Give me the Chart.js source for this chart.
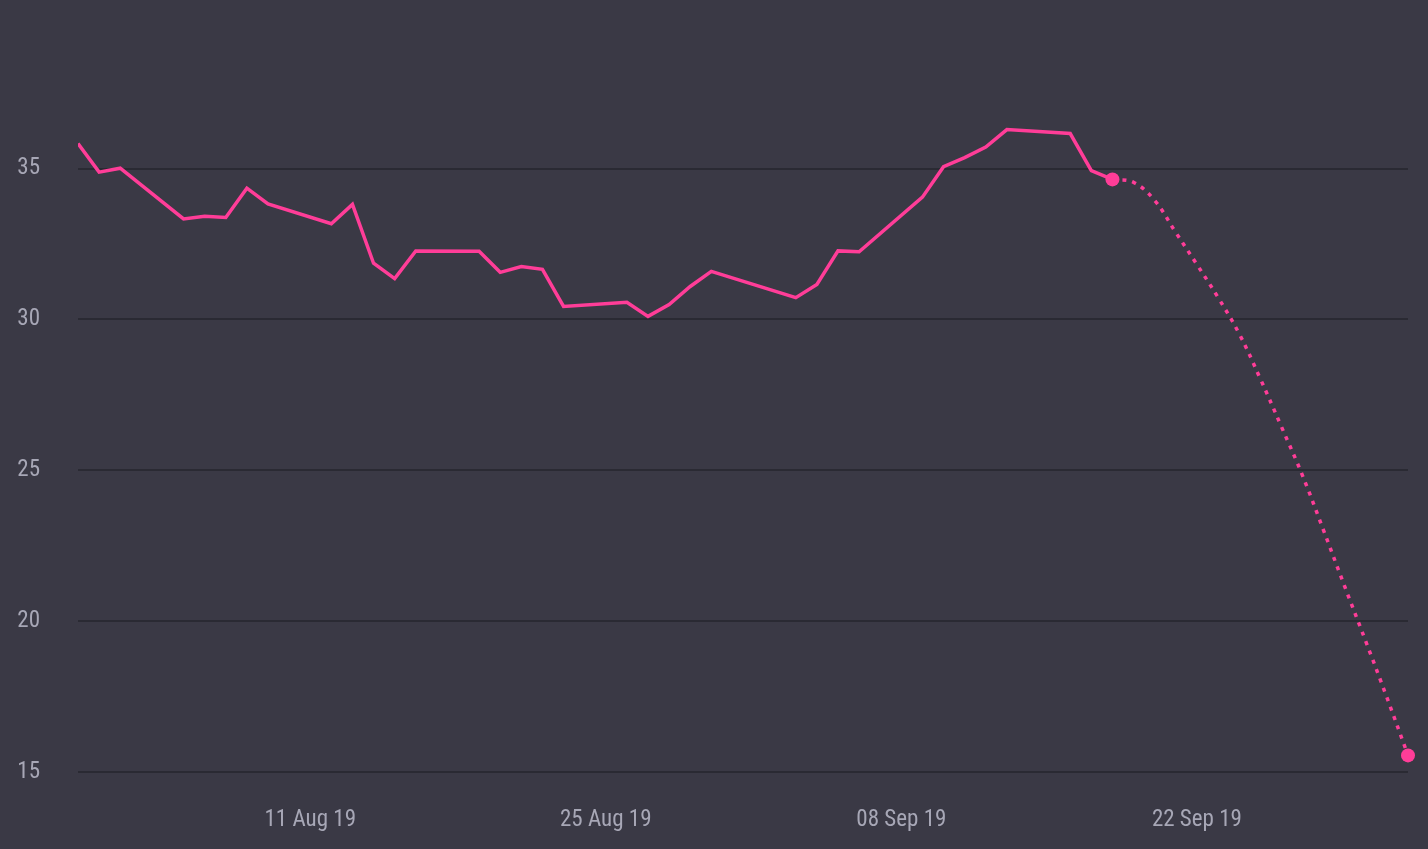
<!DOCTYPE html>
<html>
<head>
<meta charset="utf-8">
<script src="https://cdn.jsdelivr.net/npm/chart.js@4/dist/chart.umd.min.js"></script>
<style>
  html, body { margin: 0; padding: 0; background: #3a3945; }
  #wrap { width: 1428px; height: 849px; }
</style>
</head>
<body>
<div id="wrap"><canvas id="myChart"></canvas></div>
<script>
// actual closes
const solidDates = ['2019-07-31', '2019-08-01', '2019-08-02', '2019-08-05', '2019-08-06', '2019-08-07',
  '2019-08-08', '2019-08-09', '2019-08-12', '2019-08-13', '2019-08-14', '2019-08-15', '2019-08-16',
  '2019-08-19', '2019-08-20', '2019-08-21', '2019-08-22', '2019-08-23', '2019-08-26', '2019-08-27',
  '2019-08-28', '2019-08-29', '2019-08-30', '2019-09-03', '2019-09-04', '2019-09-05', '2019-09-06',
  '2019-09-09', '2019-09-10', '2019-09-11', '2019-09-12', '2019-09-13', '2019-09-16', '2019-09-17',
  '2019-09-18'];
const solidValues = [35.83, 34.88, 35.01, 33.33, 33.42, 33.38,
  34.35, 33.83, 33.17, 33.81, 31.86, 31.35, 32.27,
  32.26, 31.56, 31.75, 31.66, 30.43, 30.57, 30.10,
  30.49, 31.09, 31.59, 30.72, 31.16, 32.27, 32.24,
  34.05, 35.06, 35.36, 35.71, 36.29, 36.16, 34.93,
  34.64];

// forecast
const forecastDates = ['2019-09-18', '2019-09-19', '2019-09-20', '2019-09-21', '2019-09-22', '2019-09-23',
  '2019-09-24', '2019-09-25', '2019-09-26', '2019-09-27', '2019-09-28', '2019-09-29', '2019-09-30',
  '2019-10-01', '2019-10-02'];
const forecastValues = [34.64, 34.54, 33.94, 32.88, 31.82, 30.73,
  29.53, 28.04, 26.45, 24.83, 23.01, 21.15, 19.33,
  17.47, 15.55];

const yTicks = [15, 20, 25, 30, 35];
const xTickDates = ['2019-08-11', '2019-08-25', '2019-09-08', '2019-09-22'];
const xTickLabels = ['11 Aug 19', '25 Aug 19', '08 Sep 19', '22 Sep 19'];

function dayNum(s) {
  return (Date.parse(s) - Date.parse(solidDates[0])) / 86400000;
}

function points(dates, values) {
  return dates.map(function (d, i) { return { x: dayNum(d), y: values[i] }; });
}

var pink = '#ff3d98';
var lastSolid = solidValues.length - 1;
var lastFc = forecastValues.length - 1;

Chart.defaults.font.family = "'Liberation Sans Narrow', 'Roboto Condensed', Roboto, sans-serif";
Chart.defaults.font.size = 23;
Chart.defaults.color = '#a7a7b6';

var ctx = document.getElementById('myChart').getContext('2d');
var myChart = new Chart(ctx, {
  type: 'line',
  data: {
    datasets: [{
      data: points(solidDates, solidValues),
      borderColor: pink,
      backgroundColor: pink,
      borderWidth: 3.5,
      tension: 0,
      pointRadius: solidValues.map(function (v, i) { return i === lastSolid ? 7 : 0; }),
      pointBorderWidth: 0,
      pointHoverRadius: 0
    }, {
      data: points(forecastDates, forecastValues),
      borderColor: pink,
      backgroundColor: pink,
      borderWidth: 3.5,
      borderDash: [4, 6],
      tension: 0.4,
      clip: false,
      pointRadius: forecastValues.map(function (v, i) { return i === lastFc ? 7 : 0; }),
      pointBorderWidth: 0,
      pointHoverRadius: 0
    }]
  },
  options: {
    responsive: true,
    maintainAspectRatio: false,
    animation: false,
    events: [],
    layout: { padding: { left: 0, right: 20, top: 78, bottom: 0 } },
    plugins: { legend: { display: false }, tooltip: { enabled: false } },
    scales: {
      x: {
        type: 'linear',
        min: 0,
        max: dayNum(forecastDates[lastFc]),
        grid: { display: false, drawTicks: false },
        border: { display: false },
        afterBuildTicks: function (axis) {
          axis.ticks = xTickDates.map(function (d) { return { value: dayNum(d) }; });
        },
        afterFit: function (axis) {
          axis.height = 77;
          axis.paddingLeft = 0;
          axis.paddingRight = 0;
        },
        ticks: {
          autoSkip: false,
          maxRotation: 0,
          padding: 34,
          callback: function (v, i) { return xTickLabels[i]; }
        }
      },
      y: {
        min: 15,
        max: 38,
        grid: { color: '#2a2a33', lineWidth: 2, drawTicks: false },
        border: { display: false },
        afterBuildTicks: function (axis) {
          axis.ticks = yTicks.map(function (v) { return { value: v }; });
        },
        afterFit: function (axis) {
          axis.width = 78;
        },
        ticks: { padding: 38 }
      }
    }
  }
});
</script>
</body>
</html>
